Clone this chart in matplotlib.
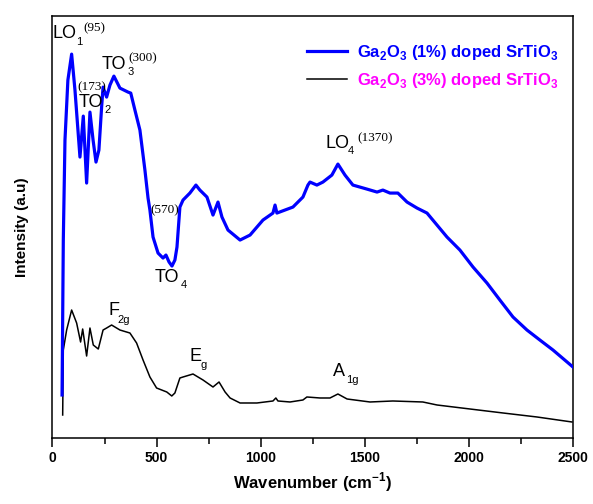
import matplotlib
matplotlib.use("Agg")
import matplotlib.pyplot as plt
from matplotlib.lines import Line2D

plt.rcParams['font.family'] = ['Liberation Sans', 'DejaVu Sans']
plt.rcParams['mathtext.fontset'] = 'custom'
plt.rcParams['mathtext.rm'] = 'Liberation Sans'
plt.rcParams['mathtext.bf'] = 'Liberation Sans:bold'

# Ga2O3 (1%) doped SrTiO3
wn_1 = [46, 52, 60, 74, 92, 108, 132, 148, 164, 180, 195, 209, 223, 236, 243, 260, 276, 295,
        324, 363, 376, 396, 420, 444, 459, 468, 483, 507, 531, 545, 560, 574, 588, 598, 612,
        627, 660, 689, 708, 742, 771, 795, 814, 843, 901, 949, 1011, 1059, 1069, 1078, 1155,
        1203, 1227, 1237, 1270, 1299, 1342, 1371, 1405, 1443, 1510, 1559, 1587, 1621, 1659,
        1703, 1751, 1799, 1847, 1895, 1957, 2020, 2087, 2149, 2212, 2279, 2341, 2404, 2500]
int_1 = [43, 198, 298, 358, 384, 348, 281, 322, 255, 326, 298, 276, 288, 331, 351, 341, 353, 362,
         350, 346, 345, 328, 308, 268, 240, 228, 201, 185, 180, 183, 176, 172, 178, 191, 231,
         238, 245, 253, 248, 241, 223, 236, 221, 208, 198, 203, 218, 225, 233, 225, 231,
         241, 253, 256, 253, 256, 263, 274, 263, 253, 249, 246, 248, 245, 245,
         236, 230, 225, 213, 201, 188, 171, 155, 138, 121, 108, 98, 88, 71]

# Ga2O3 (3%) doped SrTiO3
wn_3 = [49, 52, 68, 92, 116, 135, 145, 164, 180, 196, 220, 243, 260, 284, 324, 372, 404, 435,
        468, 500, 549, 573, 588, 612, 627, 675, 723, 771, 800, 829, 853, 901, 982, 1059, 1073,
        1083, 1141, 1203, 1222, 1285, 1333, 1371, 1415, 1525, 1635, 1779, 1847, 2005, 2164,
        2327, 2495]
int_3 = [23, 88, 108, 128, 115, 96, 109, 82, 110, 93, 89, 108, 110, 113, 108, 105, 95, 78,
         61, 50, 46, 42, 45, 60, 61, 64, 58, 51, 56, 46, 40, 35, 35, 37, 40,
         37, 36, 38, 41, 40, 40, 44, 39, 36, 37, 36, 33, 29, 25,
         21, 16]

x_ticks = [0, 500, 1000, 1500, 2000, 2500]

fig = plt.figure(figsize=(5.93, 5.04), dpi=100)
ax = fig.add_axes([0.0885, 0.131, 0.8777, 0.837])

ax.plot(wn_1, int_1, color='#0000FF', lw=2.3, zorder=3)
ax.plot(wn_3, int_3, color='black', lw=1.1, zorder=2)

ax.set_xlim(0, 2500)
ax.set_ylim(0, 422)
ax.set_xticks(x_ticks)
ax.set_xticks(range(250, 2500, 500), minor=True)
ax.set_yticks([])
ax.tick_params(axis='x', which='major', direction='out', length=6.5, width=1.1,
               labelsize=10, pad=3)
ax.tick_params(axis='x', which='minor', direction='out', length=4.3, width=1.1)
for lab in ax.get_xticklabels():
    lab.set_fontweight('bold')
for s in ax.spines.values():
    s.set_linewidth(1.1)

ax.set_xlabel('Wavenumber (cm$^{\\mathbf{-1}}$)', fontsize=12, fontweight='bold', labelpad=4)
ax.set_ylabel('Intensity (a.u)', fontsize=11, fontweight='bold', labelpad=17)


# peak labels: main text, subscript, serif superscript
def peak(x, y, main, sub=None, sub_xy=None, sup=None, sup_xy=None):
    ax.text(x, y, main, fontsize=13, ha='left', va='center')
    if sub:
        ax.text(sub_xy[0], sub_xy[1], sub, fontsize=8, ha='left', va='center')
    if sup:
        ax.text(sup_xy[0], sup_xy[1], sup, fontsize=9.5, ha='left', va='center',
                family='Liberation Serif')


peak(2, 405, 'LO', '1', (113, 396), '(95)', (146, 410))
peak(238, 374, 'TO', '3', (360, 366), '(300)', (363, 380))
peak(127, 336, 'TO', '2', (248, 328), '(173)', (118, 351))
peak(1309, 295, 'LO', '4', (1420, 287), '(1370)', (1463, 300))
ax.text(468, 228, '(570)', fontsize=9.5, ha='left', va='center', family='Liberation Serif')
peak(492, 161, 'TO', '4', (614, 153))
peak(267, 128, 'F', '2g', (312, 118))
peak(656, 82, 'E', 'g', (710, 73))
peak(1347, 66, 'A', '1g', (1410, 58))

handles = [Line2D([], [], color='#0000FF', lw=2.3), Line2D([], [], color='black', lw=1.1)]
labels = ['Ga$_\\mathbf{2}$O$_\\mathbf{3}$ (1%) doped SrTiO$_\\mathbf{3}$',
          'Ga$_\\mathbf{2}$O$_\\mathbf{3}$ (3%) doped SrTiO$_\\mathbf{3}$']
leg = ax.legend(handles, labels, loc='upper left', bbox_to_anchor=(0.489, 0.937),
                frameon=False, borderpad=0, borderaxespad=0, handlelength=2.4,
                handletextpad=0.6, labelspacing=0.55,
                prop={'size': 12, 'weight': 'bold'},
                labelcolor=['#0000FF', '#FF00FF'])

fig.savefig('out.png', dpi=100)
